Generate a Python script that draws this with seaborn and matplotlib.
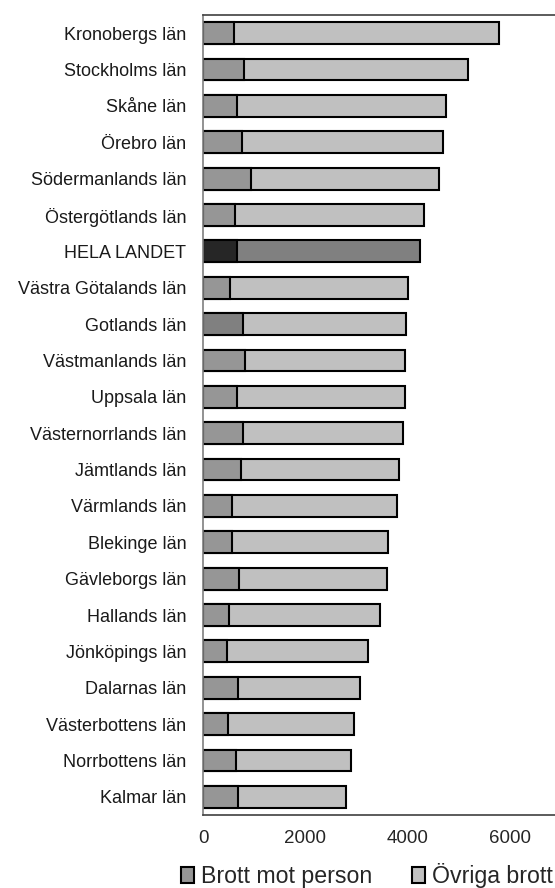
import matplotlib
matplotlib.use("Agg")
import matplotlib.pyplot as plt
from matplotlib.patches import Patch
import seaborn as sns
import pandas as pd

# Anmälda brott per 100 000 invånare, uppdelat per län
lan = [
    "Kronobergs län", "Stockholms län", "Skåne län", "Örebro län",
    "Södermanlands län", "Östergötlands län", "HELA LANDET",
    "Västra Götalands län", "Gotlands län", "Västmanlands län",
    "Uppsala län", "Västernorrlands län", "Jämtlands län", "Värmlands län",
    "Blekinge län", "Gävleborgs län", "Hallands län", "Jönköpings län",
    "Dalarnas län", "Västerbottens län", "Norrbottens län", "Kalmar län",
]
brott_mot_person = [612, 795, 660, 757, 933, 633, 665, 535, 790, 815, 665,
                    790, 737, 561, 561, 704, 502, 463, 691, 489, 640, 691]
ovriga_brott = [5188, 4385, 4090, 3940, 3692, 3692, 3582, 3483, 3177, 3132,
                3282, 3130, 3105, 3235, 3066, 2890, 2962, 2760, 2381, 2456,
                2256, 2101]
x_ticks = [0, 2000, 4000, 6000]

df = pd.DataFrame({"lan": lan, "person": brott_mot_person, "ovriga": ovriga_brott})
df["total"] = df["person"] + df["ovriga"]

sns.set_style("white")
plt.rcParams["font.family"] = ["Liberation Sans", "DejaVu Sans"]

person_col = {k: "#969696" for k in lan}
person_col["Gotlands län"] = "#808080"
person_col["HELA LANDET"] = "#262626"
ovriga_col = {k: "#c0c0c0" for k in lan}
ovriga_col["HELA LANDET"] = "#808080"

fig = plt.figure(figsize=(5.55, 8.88), dpi=100)
ax = fig.add_axes([0.3658, 0.0822, 0.6445, 0.9009])

# Hela stapeln (övriga brott ligger ytterst), sedan brott mot person ovanpå
sns.barplot(data=df, x="total", y="lan", hue="lan", palette=ovriga_col,
            order=lan, hue_order=lan, width=0.6, edgecolor="black",
            linewidth=1.5, legend=False, ax=ax, orient="h", saturation=1)
sns.barplot(data=df, x="person", y="lan", hue="lan", palette=person_col,
            order=lan, hue_order=lan, width=0.6, edgecolor="black",
            linewidth=1.5, legend=False, ax=ax, orient="h", saturation=1)

ax.set_xlim(0, 7000)
ax.set_ylim(len(lan) - 0.5, -0.5)
ax.set_xticks(x_ticks)
ax.set_xticklabels([str(t) for t in x_ticks], fontsize=13.5)
ax.set_xlabel("")
ax.set_ylabel("")
ax.tick_params(axis="y", length=0, pad=12, labelsize=13)
ax.tick_params(axis="x", length=5, width=1, color="#404040", pad=6, direction="out")
for lab in ax.get_yticklabels():
    lab.set_color("#1a1a1a")

for side in ["top", "bottom"]:
    ax.spines[side].set_color("#404040")
    ax.spines[side].set_linewidth(1.2)
ax.spines["left"].set_color("#7f7f7f")
ax.spines["left"].set_linewidth(1.2)
ax.spines["right"].set_visible(False)

handles = [
    Patch(facecolor="#969696", edgecolor="black", linewidth=1.5, label="Brott mot person"),
    Patch(facecolor="#c0c0c0", edgecolor="black", linewidth=1.5, label="Övriga brott"),
]
fig.legend(handles=handles, loc="lower left", bbox_to_anchor=(0.326, 0.0),
           ncol=2, frameon=False, fontsize=16.7, handlelength=0.55,
           handleheight=0.65, handletextpad=0.3, columnspacing=1.75,
           borderpad=0, borderaxespad=0)

fig.savefig("out.png", dpi=100)
